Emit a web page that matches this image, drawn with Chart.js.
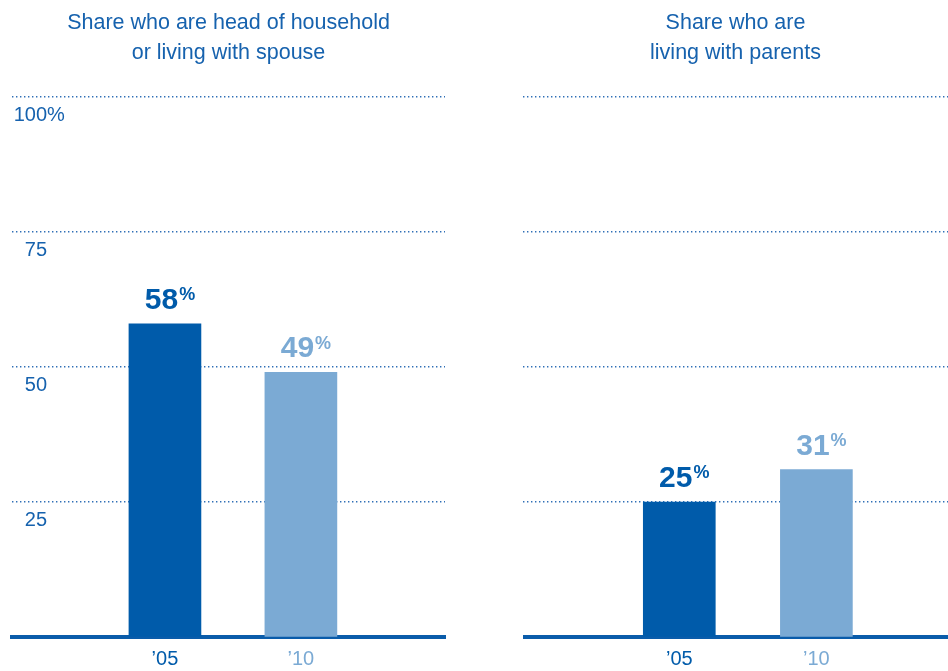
<!DOCTYPE html>
<html>
<head>
<meta charset="utf-8">
<script src="https://cdn.jsdelivr.net/npm/chart.js@4/dist/chart.umd.min.js"></script>
<style>
  html, body { margin: 0; padding: 0; background: #fff; overflow: hidden; }
  .panel { position: absolute; top: 0; height: 671px; }
  #left { left: 0; width: 457px; }
  #right { left: 523px; width: 425px; }
</style>
</head>
<body>
<div class="panel" id="left"><canvas id="chart-left"></canvas></div>
<div class="panel" id="right"><canvas id="chart-right"></canvas></div>
<script>
// survey years and shares (%)
const years = ['\u201905', '\u201910'];
const headOrSpouse = [58, 49];
const withParents = [25, 31];
const yTicks = [25, 50, 75, 100];
const leftTitle = ['Share who are head of household', 'or living with spouse'];
const rightTitle = ['Share who are', 'living with parents'];

const barColors = ['#005BAA', '#7BAAD4'];
const textBlue = '#1662AE';
const gridBlue = '#2F6FB6';
const FONT = '"Liberation Sans", Arial, Helvetica, sans-serif';

Chart.defaults.font.family = FONT;

// big bold value with a small raised percent sign above each bar
const valueLabels = {
    id: 'valueLabels',
    afterDatasetsDraw(chart) {
        const ctx = chart.ctx;
        const pts = chart.data.datasets[0].data;
        chart.getDatasetMeta(0).data.forEach((bar, i) => {
            const num = String(pts[i].y);
            ctx.save();
            ctx.font = 'bold 30px ' + FONT;
            const numW = ctx.measureText(num).width;
            ctx.font = 'bold 18px ' + FONT;
            const pctW = ctx.measureText('%').width;
            const x0 = bar.x + 5 - (numW + 1 + pctW) / 2;
            const base = bar.y - 15;
            ctx.fillStyle = barColors[i];
            ctx.textAlign = 'left';
            ctx.textBaseline = 'alphabetic';
            ctx.font = 'bold 30px ' + FONT;
            ctx.fillText(num, x0, base);
            ctx.font = 'bold 18px ' + FONT;
            ctx.fillText('%', x0 + numW + 1, base - 8.6);
            ctx.restore();
        });
    }
};

// y labels sit just under their gridline, numbers right-aligned
const yLabels = {
    id: 'yLabels',
    afterDraw(chart) {
        const ctx = chart.ctx;
        const y = chart.scales.y;
        const right = chart.chartArea.left + 35;
        ctx.save();
        ctx.font = '20px ' + FONT;
        ctx.fillStyle = textBlue;
        ctx.textBaseline = 'alphabetic';
        yTicks.forEach(v => {
            const py = y.getPixelForValue(v) + 24;
            ctx.textAlign = 'right';
            ctx.fillText(String(v), right, py);
            if (v === y.max) {
                ctx.textAlign = 'left';
                ctx.fillText('%', right, py);
            }
        });
        ctx.restore();
    }
};

function makeChart(id, title, values, xRange, pad, extraPlugins) {
    return new Chart(document.getElementById(id), {
        type: 'bar',
        data: {
            datasets: [{
                data: values.map((v, i) => ({ x: i + 1, y: v })),
                backgroundColor: barColors,
                barThickness: 72,
                borderWidth: 0
            }]
        },
        options: {
            responsive: true,
            maintainAspectRatio: false,
            animation: false,
            layout: { padding: { left: pad, right: pad, top: 0, bottom: 0 } },
            plugins: {
                legend: { display: false },
                tooltip: { enabled: false },
                title: {
                    display: true,
                    text: title,
                    color: textBlue,
                    font: { size: 21.5, weight: 'normal', lineHeight: '30px' },
                    padding: { top: 8, bottom: 29 }
                }
            },
            scales: {
                x: {
                    type: 'linear',
                    offset: false,
                    min: xRange[0],
                    max: xRange[1],
                    grid: { display: false, drawTicks: false },
                    border: { display: true, color: '#0A5CAA', width: 4 },
                    afterBuildTicks: scale => { scale.ticks = years.map((_, i) => ({ value: i + 1 })); },
                    afterFit: scale => { scale.height = 34; },
                    ticks: {
                        padding: 10,
                        font: { size: 20 },
                        color: c => barColors[c.index],
                        callback: v => years[v - 1]
                    }
                },
                y: {
                    min: 0,
                    max: 100,
                    ticks: { stepSize: 25, display: false },
                    grid: {
                        drawTicks: false,
                        lineWidth: 1.4,
                        color: c => (c.tick && c.tick.value === 0 ? 'rgba(0,0,0,0)' : gridBlue)
                    },
                    border: { display: false, dash: [1.4, 2.6] }
                }
            }
        },
        plugins: [valueLabels].concat(extraPlugins)
    });
}

makeChart('chart-left', leftTitle, headOrSpouse, [-0.125, 3.06], 12, [yLabels]);
makeChart('chart-right', rightTitle, withParents, [-0.14, 2.96], 0, []);
</script>
</body>
</html>
